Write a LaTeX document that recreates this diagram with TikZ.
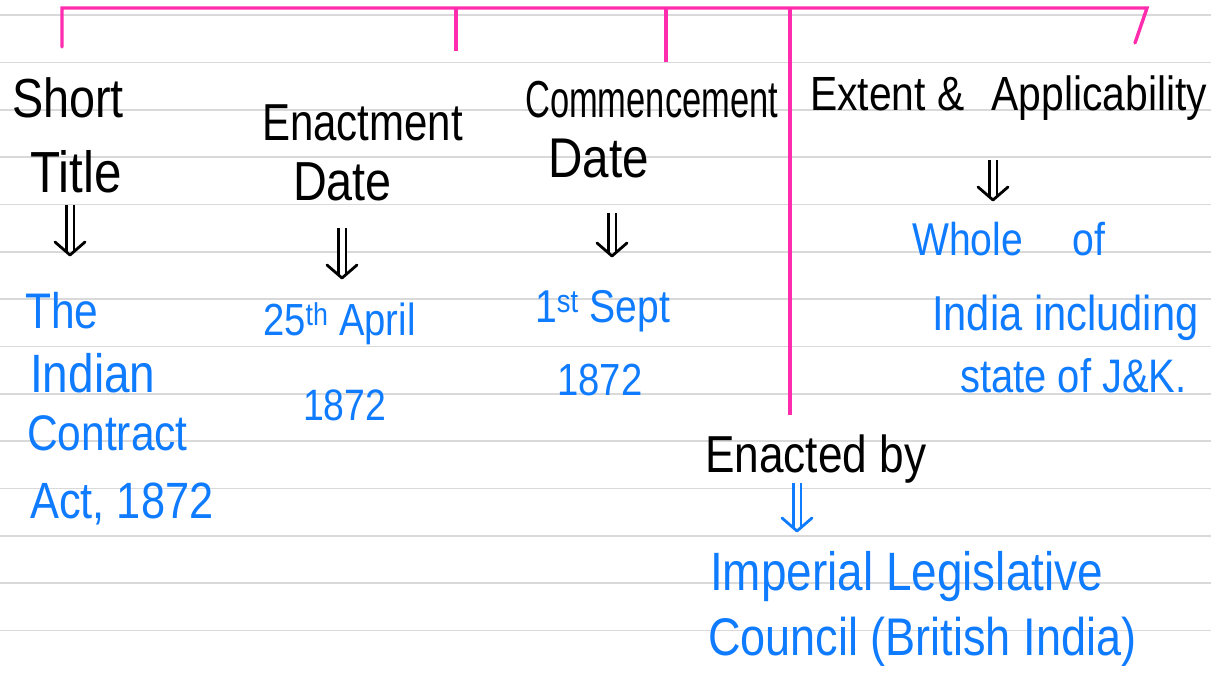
\documentclass[tikz,border=0pt]{standalone}
\usepackage{fontspec}
\setmainfont{Liberation Sans}[FakeStretch=0.85]
\usetikzlibrary{arrows.meta}
\definecolor{pinkline}{HTML}{FF2DAE}
\definecolor{inkblue}{HTML}{0F7BFF}
\definecolor{ruled}{HTML}{D9D9D9}
\tikzset{
  hd/.style={anchor=base west, inner sep=0pt, text=black},
  val/.style={anchor=base west, inner sep=0pt, text=inkblue},
  tree/.style={draw=pinkline, line width=3.4pt},
  shaft/.style={double, double distance=5pt, line width=2.6pt},
  vtip/.style={line width=2.8pt, line cap=round, line join=round},
}
\newcommand{\fs}[1]{\fontsize{#1}{#1}\selectfont}
\newcommand{\dblarrow}[3]{%
  \draw[shaft, draw=#3] (#1) -- ($(#2)+(0,-4)$);
  \draw[vtip, draw=#3] ($(#2)+(-15,-13)$) -- (#2) -- ($(#2)+(15,-13)$);
}
\usetikzlibrary{calc}
\begin{document}
\begin{tikzpicture}[x=1pt,y=-1pt]
\useasboundingbox[fill=white] (0,0) rectangle (1211,673);
% ruled lines
\foreach \k in {0,...,13}{
  \draw[ruled, line width=1.6pt] (0,{15+47.35*\k}) -- (1211,{15+47.35*\k});
}
% headings
\node[hd] (st1) at (12,117) {\fs{55}Short};
\node[hd] (st2) at (30,192) {\fs{58}Title};
\node[hd] (en1) at (262,140) {\fs{52}\scalebox{0.95}[1]{Enactment}};
\node[hd] (en2) at (293,200) {\fs{55}Date};
\node[hd] (cm1) at (525,117) {\fs{52}\scalebox{0.78}[1]{Commencement}};
\node[hd] (cm2) at (548,177) {\fs{56}Date};
\node[hd] (ex) at (810,110) {\fs{48}Extent \&\hspace{16pt} Applicability};
\node[hd] (eb) at (705,472) {\fs{52}Enacted by};
% values
\node[val] (v1a) at (25,328) {\fs{50}The};
\node[val] (v1b) at (30,392) {\fs{54}Indian};
\node[val] (v1c) at (27,450) {\fs{50}Contract};
\node[val] (v1d) at (30,518) {\fs{51}Act, 1872};
\node[val] (v2a) at (263,335) {\fs{45}25\textsuperscript{th} April};
\node[val] (v2b) at (303,420) {\fs{44}1872};
\node[val] (v3a) at (535,322) {\fs{46}1\textsuperscript{st} Sept};
\node[val] (v3b) at (557,395) {\fs{45}1872};
\node[val] (v4a) at (912,255) {\fs{46}Whole\hspace{50pt}of};
\node[val] (v4b) at (932,330) {\fs{49}India including};
\node[val] (v4c) at (960,392) {\fs{47}state of J\&K.};
\node[val] (v5a) at (710,590) {\fs{54}Imperial Legislative};
\node[val] (v5b) at (708,655) {\fs{53}Council (British India)};
% tree coordinates
\coordinate (tL) at (62,8);
\coordinate (tR) at (1147,8);
\coordinate (b1) at (62,47);
\coordinate (t2) at (456,8);
\coordinate (b2) at (456,51);
\coordinate (t3) at (666,8);
\coordinate (b3) at (666,62);
\coordinate (t5) at (790,8);
\coordinate (b5) at (790,415);
\coordinate (b4) at (1135,43);
\draw[tree, line cap=round] (b1) -- (tL) -- (tR) -- (b4);
\draw[tree] (t2) -- (b2);
\draw[tree] (t3) -- (b3);
\draw[tree] (t5) -- (b5);
% double arrows
\coordinate (a1s) at (70,205); \coordinate (a1e) at (70,255);
\coordinate (a2s) at (342,228); \coordinate (a2e) at (342,278);
\coordinate (a3s) at (612,213); \coordinate (a3e) at (612,256);
\coordinate (a4s) at (993,160); \coordinate (a4e) at (993,200);
\coordinate (a5s) at (797,483); \coordinate (a5e) at (797,531);
\dblarrow{a1s}{a1e}{black}
\dblarrow{a2s}{a2e}{black}
\dblarrow{a3s}{a3e}{black}
\dblarrow{a4s}{a4e}{black}
\dblarrow{a5s}{a5e}{inkblue}
\end{tikzpicture}
\end{document}
